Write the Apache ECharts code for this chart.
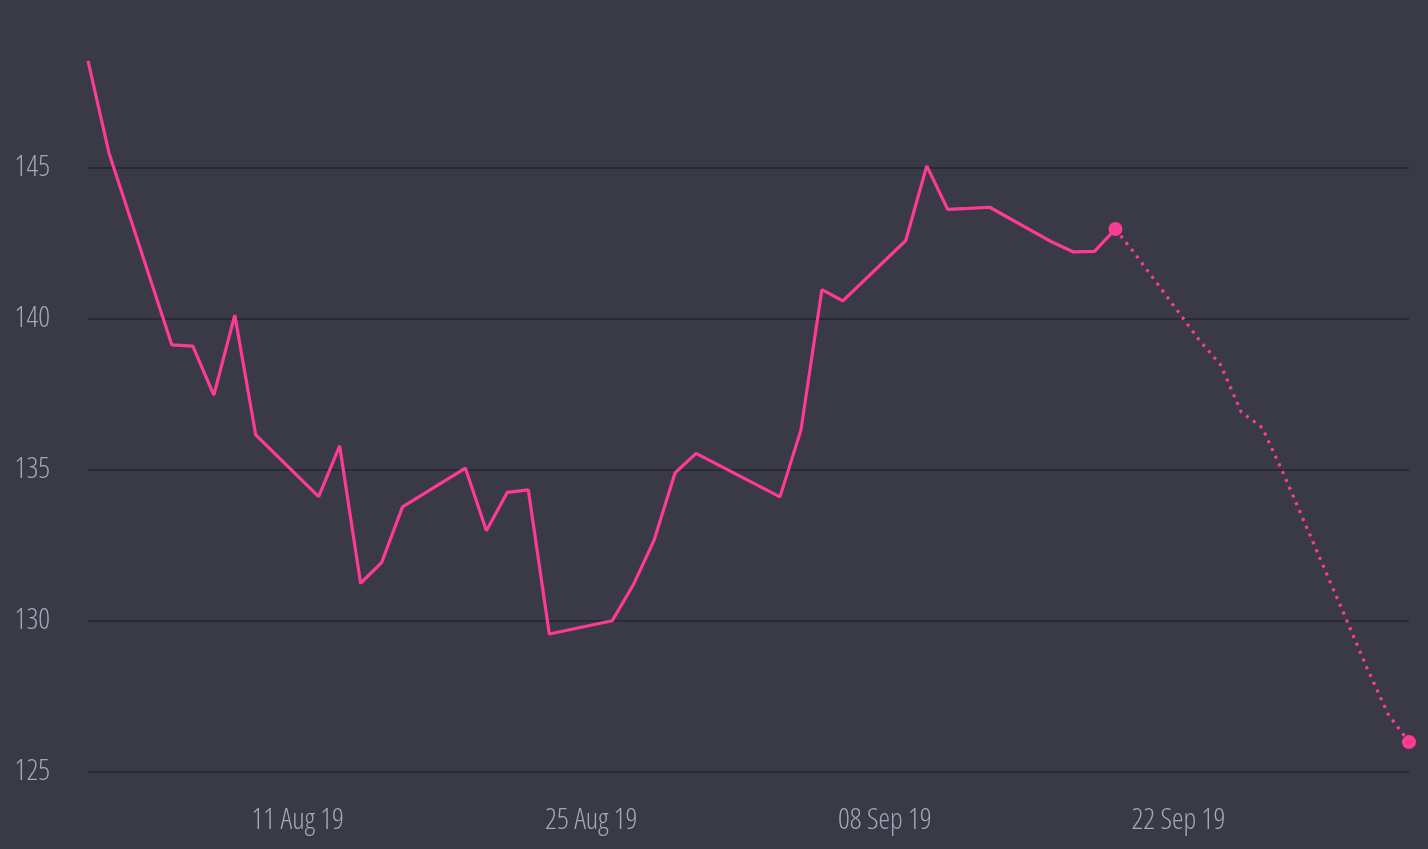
<!DOCTYPE html>
<html>
<head>
<meta charset="utf-8">
<script src="https://cdn.jsdelivr.net/npm/echarts@6/dist/echarts.min.js"></script>
<style>
  html, body { margin: 0; padding: 0; background: #3a3a47; }
  #chart { width: 1428px; height: 849px; }
</style>
</head>
<body>
<div id="chart"></div>
<script>
// price history (solid line)
var actualDates = [
  '2019-08-01', '2019-08-02', '2019-08-05', '2019-08-06', '2019-08-07', '2019-08-08', '2019-08-09',
  '2019-08-12', '2019-08-13', '2019-08-14', '2019-08-15', '2019-08-16',
  '2019-08-19', '2019-08-20', '2019-08-21', '2019-08-22', '2019-08-23',
  '2019-08-26', '2019-08-27', '2019-08-28', '2019-08-29', '2019-08-30',
  '2019-09-03', '2019-09-04', '2019-09-05', '2019-09-06',
  '2019-09-09', '2019-09-10', '2019-09-11', '2019-09-12', '2019-09-13',
  '2019-09-16', '2019-09-17', '2019-09-18', '2019-09-19'
];
var actualValues = [
  148.55, 145.5, 139.14, 139.1, 137.48, 140.13, 136.16,
  134.12, 135.8, 131.25, 131.93, 133.78,
  135.06, 132.99, 134.26, 134.34, 129.57,
  130.01, 131.19, 132.68, 134.91, 135.55,
  134.11, 136.32, 140.97, 140.6,
  142.6, 145.07, 143.63, 143.66, 143.7,
  142.54, 142.22, 142.24, 142.98
];

// forecast (dotted line)
var forecastDates = [
  '2019-09-19', '2019-09-20', '2019-09-23', '2019-09-24', '2019-09-25', '2019-09-26',
  '2019-09-27', '2019-09-30', '2019-10-01', '2019-10-02', '2019-10-03'
];
var forecastValues = [
  142.98, 142.1, 139.3, 138.5, 136.92, 136.4,
  134.9, 130.07, 128.44, 126.92, 125.99
];

// x tick labels
var tickDates = ['2019-08-11', '2019-08-25', '2019-09-08', '2019-09-22'];
var xMin = '2019-08-01';
var xMax = '2019-10-03';

var months = ['Jan', 'Feb', 'Mar', 'Apr', 'May', 'Jun', 'Jul', 'Aug', 'Sep', 'Oct', 'Nov', 'Dec'];
function pad(n) { return (n < 10 ? '0' : '') + n; }
function toTime(s) {
  var p = s.split('-');
  return new Date(+p[0], +p[1] - 1, +p[2]).getTime();
}
function zip(dates, values) {
  var out = [];
  for (var i = 0; i < dates.length; i++) {
    out.push([toTime(dates[i]), values[i]]);
  }
  return out;
}

var pink = '#fd3b95';
// condensed light face of Open Sans (variable font)
var labelText = {
  fontStyle: 'condensed',
  fontWeight: 300,
  fontSize: 29,
  fontFamily: "'Open Sans', sans-serif",
  color: '#a6a6b6'
};

var myChart = echarts.init(document.getElementById('chart'));
var option = {
  backgroundColor: '#3a3a47',
  animation: false,
  grid: { left: 88, right: 19, top: 17, bottom: 77, containLabel: false, outerBoundsMode: 'none' },
  xAxis: {
    // timestamps on a value axis so the labels can sit on chosen dates
    type: 'value',
    min: toTime(xMin),
    max: toTime(xMax),
    axisLine: { show: false },
    axisTick: { show: false },
    splitLine: { show: false },
    axisLabel: Object.assign({
      customValues: tickDates.map(toTime),
      margin: 34,
      formatter: function (v) {
        var d = new Date(v);
        return pad(d.getDate()) + ' ' + months[d.getMonth()] + ' ' + String(d.getFullYear()).slice(2);
      }
    }, labelText)
  },
  yAxis: {
    type: 'value',
    min: 125,
    max: 150,
    interval: 5,
    axisLine: { show: false },
    axisTick: { show: false },
    splitLine: { show: true, showMaxLine: false, lineStyle: { color: '#2a2a33', width: 2 } },
    axisLabel: Object.assign({
      showMaxLabel: false,
      margin: 38
    }, labelText)
  },
  series: [
    {
      type: 'line',
      data: zip(actualDates, actualValues),
      showAllSymbol: true,
      symbol: 'circle',
      symbolSize: function (val, params) {
        return params.dataIndex === actualDates.length - 1 ? 14 : 0;
      },
      itemStyle: { color: pink },
      lineStyle: { color: pink, width: 3.2 },
      z: 3
    },
    {
      type: 'line',
      data: zip(forecastDates, forecastValues),
      showAllSymbol: true,
      symbol: 'circle',
      symbolSize: function (val, params) {
        return params.dataIndex === forecastDates.length - 1 ? 14 : 0;
      },
      itemStyle: { color: pink },
      lineStyle: { color: pink, width: 3.2, type: [3, 5.5], cap: 'butt' },
      z: 2
    }
  ]
};
myChart.setOption(option);
</script>
</body>
</html>
